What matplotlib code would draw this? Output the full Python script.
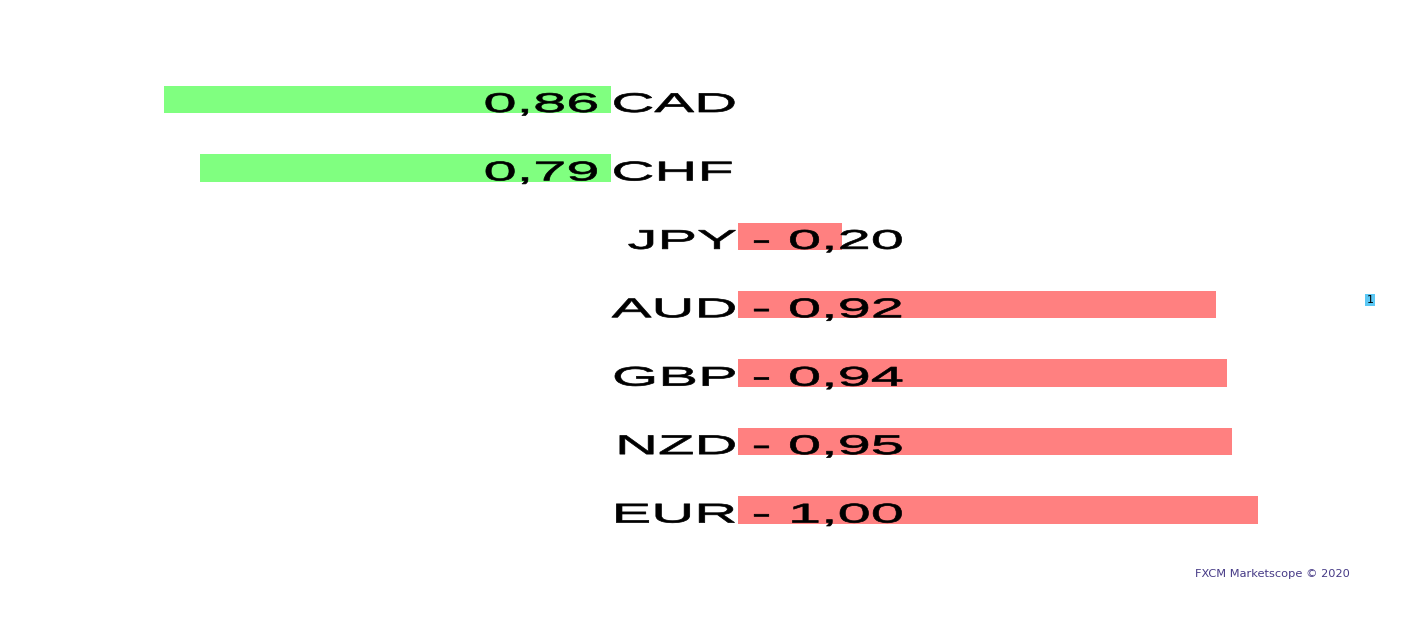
import matplotlib
matplotlib.use("Agg")
import matplotlib.pyplot as plt
from matplotlib.patheffects import AbstractPathEffect
from matplotlib.transforms import Affine2D, blended_transform_factory, ScaledTranslation

# ---- data ----
currencies = ["CAD", "CHF", "JPY", "AUD", "GBP", "NZD", "EUR"]
values = [0.86, 0.79, -0.20, -0.92, -0.94, -0.95, -1.00]
footer = "FXCM Marketscope \u00a9 2020"
badge = "1"

GREEN = "#80FF80"
RED = "#FF8080"

W, H, DPI = 1423, 619, 100


class HStretch(AbstractPathEffect):
    """Stretch drawn text horizontally around its left or right ink edge,
    with a thin outline to thicken the strokes."""

    def __init__(self, sx, anchor="left", lw=0.5):
        super().__init__()
        self.sx = sx
        self.anchor = anchor
        self.lw = lw

    def draw_path(self, renderer, gc, tpath, affine, rgbFace=None):
        ext = tpath.get_extents(affine)
        a = ext.x0 if self.anchor == "left" else ext.x1
        new = affine + Affine2D().translate(-a, 0).scale(self.sx, 1).translate(a, 0)
        gc0 = renderer.new_gc()
        gc0.copy_properties(gc)
        gc0.set_linewidth(self.lw)
        if rgbFace is not None:
            gc0.set_foreground(rgbFace)
        renderer.draw_path(gc0, tpath, new, rgbFace)
        gc0.restore()


fig = plt.figure(figsize=(W / DPI, H / DPI), dpi=DPI)
fig.patch.set_facecolor("white")

px_per_unit = 520.0
left_edge = 611.0
right_start = 738.0
row_top = 99.5
row_step = 68.42
ylim = ((H - row_top) / row_step, -row_top / row_step)

axL = fig.add_axes([0, 0, left_edge / W, 1])
axR = fig.add_axes([right_start / W, 0, (W - right_start) / W, 1])
axL.set_xlim(left_edge / px_per_unit, 0)
axR.set_xlim(0, (W - right_start) / px_per_unit)
for ax in (axL, axR):
    ax.set_ylim(*ylim)
    ax.axis("off")

ypos = list(range(len(currencies)))
pos_y = [y for y, v in zip(ypos, values) if v > 0]
pos_v = [v for v in values if v > 0]
neg_y = [y for y, v in zip(ypos, values) if v < 0]
neg_v = [-v for v in values if v < 0]

axL.barh(pos_y, pos_v, height=0.40, color=GREEN, linewidth=0)
axR.barh(neg_y, neg_v, height=0.40, color=RED, linewidth=0)

fs = 19.5
stretch = 2.2
base_off = ScaledTranslation(0, -12.5 / DPI, fig.dpi_scale_trans)
tr = blended_transform_factory(fig.transFigure, axL.transData) + base_off


def fmt(v):
    s = f"{abs(v):.2f}".replace(".", ",")
    return s if v >= 0 else "- " + s


for y, cur, v in zip(ypos, currencies, values):
    if v > 0:
        fig.text(613 / W, y, cur, transform=tr, ha="left", va="baseline",
                 fontsize=fs, family="Liberation Sans", color="black",
                 path_effects=[HStretch(stretch, "left")])
        fig.text(598 / W, y, fmt(v), transform=tr, ha="right", va="baseline",
                 fontsize=fs, family="Liberation Sans", color="black",
                 path_effects=[HStretch(stretch, "right")])
    else:
        fig.text(736 / W, y, cur, transform=tr, ha="right", va="baseline",
                 fontsize=fs, family="Liberation Sans", color="black",
                 path_effects=[HStretch(stretch, "right")])
        fig.text(753 / W, y, fmt(v), transform=tr, ha="left", va="baseline",
                 fontsize=fs, family="Liberation Sans", color="black",
                 path_effects=[HStretch(stretch, "left")])

fig.text(1195 / W, 1 - 574 / H, footer, ha="left", va="center",
         fontsize=8.2, family="DejaVu Sans", color="#463a86")
fig.text(1370 / W, 1 - 300 / H, badge, ha="center", va="center",
         fontsize=8, family="DejaVu Sans", color="black",
         bbox=dict(boxstyle="square,pad=0.12", fc="#5bc8f5", ec="none"))

fig.savefig("out.png", dpi=DPI, facecolor="white")
